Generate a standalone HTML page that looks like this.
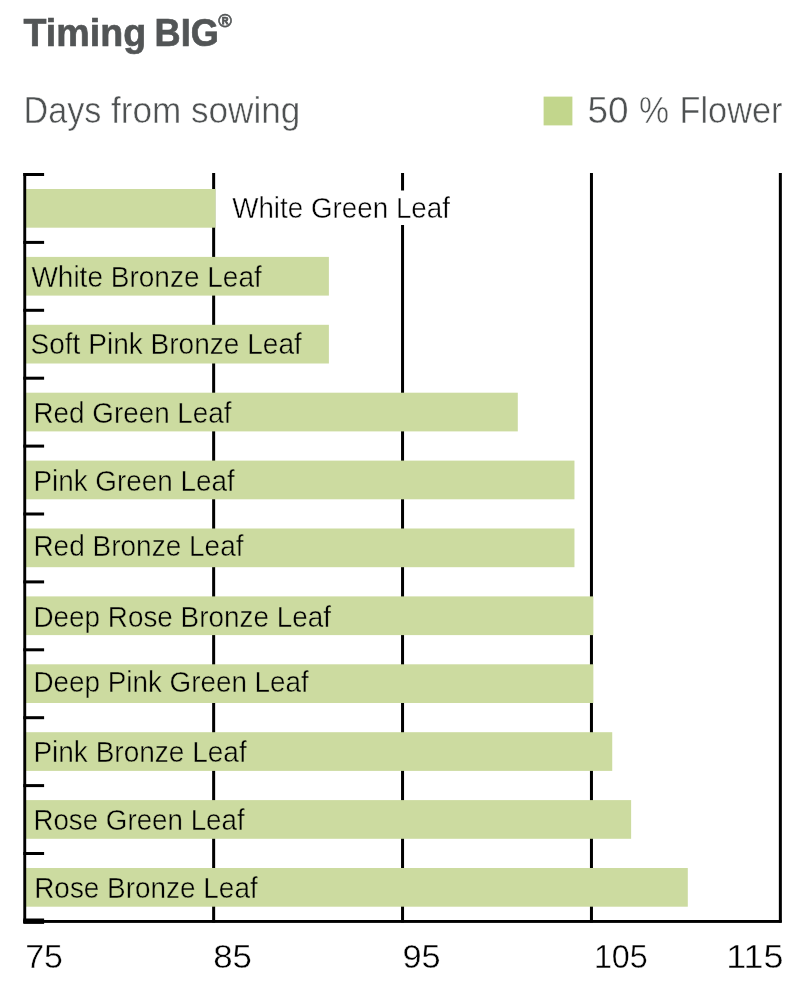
<!DOCTYPE html>
<html lang="en">
<head>
<meta charset="utf-8">
<title>Timing BIG</title>
<style>
html,body{margin:0;padding:0;background:#fff;}
body{width:809px;height:999px;overflow:hidden;}
svg{display:block;}
text{font-family:"Liberation Sans",sans-serif;}
.t{font-weight:bold;fill:#525556;}
.g{fill:#4e5152;}
.l{fill:#000;}
</style>
</head>
<body>
<svg width="809" height="999" viewBox="0 0 809 999">
<rect width="809" height="999" fill="#fff"/>
<text class="t" y="46" font-size="38.8" stroke="#525556" stroke-width="0.7"><tspan x="23.6" textLength="122.5" lengthAdjust="spacingAndGlyphs">Timing</tspan> <tspan x="154.6" textLength="64.3" lengthAdjust="spacingAndGlyphs">BIG</tspan></text>
<text class="t" x="218.2" y="26.6" font-size="17.6" textLength="13.6" lengthAdjust="spacingAndGlyphs" stroke="#525556" stroke-width="0.6">®</text>
<text class="g" y="122.9" font-size="36" stroke="#fff" stroke-width="0.5"><tspan x="23.57" textLength="77.84" lengthAdjust="spacingAndGlyphs">Days</tspan> <tspan x="110.97" textLength="70.31" lengthAdjust="spacingAndGlyphs">from</tspan> <tspan x="190.95" textLength="109.36" lengthAdjust="spacingAndGlyphs">sowing</tspan></text>
<rect x="543.6" y="96.6" width="28.8" height="28.8" fill="#c2d68c"/>
<text class="g" y="123.4" font-size="36" stroke="#fff" stroke-width="0.5"><tspan x="587.42" textLength="41.16" lengthAdjust="spacingAndGlyphs">50</tspan> <tspan x="638.92" textLength="30.04" lengthAdjust="spacingAndGlyphs">%</tspan> <tspan x="679.56" textLength="102.88" lengthAdjust="spacingAndGlyphs">Flower</tspan></text>
<rect x="212.15" y="173" width="3" height="749.5" fill="#000"/>
<rect x="401.05" y="173" width="3" height="749.5" fill="#000"/>
<rect x="589.95" y="173" width="3" height="749.5" fill="#000"/>
<rect x="778.85" y="173" width="3" height="749.5" fill="#000"/>
<rect x="229" y="190.5" width="224" height="34.5" fill="#fff"/>
<rect x="25" y="189.0" width="190.55" height="38.7" fill="#ccdba0"/>
<rect x="25" y="256.9" width="303.89" height="38.7" fill="#ccdba0"/>
<rect x="25" y="324.8" width="303.89" height="38.7" fill="#ccdba0"/>
<rect x="25" y="392.7" width="492.79" height="38.7" fill="#ccdba0"/>
<rect x="25" y="460.6" width="549.46" height="38.7" fill="#ccdba0"/>
<rect x="25" y="528.5" width="549.46" height="38.7" fill="#ccdba0"/>
<rect x="25" y="596.4" width="568.35" height="38.7" fill="#ccdba0"/>
<rect x="25" y="664.3" width="568.35" height="38.7" fill="#ccdba0"/>
<rect x="25" y="732.2" width="587.24" height="38.7" fill="#ccdba0"/>
<rect x="25" y="800.1" width="606.13" height="38.7" fill="#ccdba0"/>
<rect x="25" y="868.0" width="662.80" height="38.7" fill="#ccdba0"/>
<rect x="23.3" y="173" width="2.9" height="750" fill="#000"/>
<rect x="23.3" y="920" width="758.4" height="2.9" fill="#000"/>
<rect x="23.3" y="173.0" width="20.8" height="3" fill="#000"/>
<rect x="23.3" y="240.9" width="20.8" height="3" fill="#000"/>
<rect x="23.3" y="308.8" width="20.8" height="3" fill="#000"/>
<rect x="23.3" y="376.7" width="20.8" height="3" fill="#000"/>
<rect x="23.3" y="444.6" width="20.8" height="3" fill="#000"/>
<rect x="23.3" y="512.5" width="20.8" height="3" fill="#000"/>
<rect x="23.3" y="580.4" width="20.8" height="3" fill="#000"/>
<rect x="23.3" y="648.3" width="20.8" height="3" fill="#000"/>
<rect x="23.3" y="716.2" width="20.8" height="3" fill="#000"/>
<rect x="23.3" y="784.1" width="20.8" height="3" fill="#000"/>
<rect x="23.3" y="852.0" width="20.8" height="3" fill="#000"/>
<rect x="23.3" y="918.5" width="20.8" height="5.4" fill="#000"/>
<text class="l" x="232.2" y="217.8" font-size="30.4" textLength="217.8" lengthAdjust="spacingAndGlyphs" stroke="#fff" stroke-width="0.45">White Green Leaf</text>
<text class="l" x="31.4" y="286.6" font-size="30.4" textLength="230.4" lengthAdjust="spacingAndGlyphs" stroke="#ccdba0" stroke-width="0.45">White Bronze Leaf</text>
<text class="l" x="30.5" y="353.8" font-size="30.4" textLength="271.3" lengthAdjust="spacingAndGlyphs" stroke="#ccdba0" stroke-width="0.45">Soft Pink Bronze Leaf</text>
<text class="l" x="33.4" y="423.2" font-size="30.4" textLength="198.2" lengthAdjust="spacingAndGlyphs" stroke="#ccdba0" stroke-width="0.45">Red Green Leaf</text>
<text class="l" x="33.4" y="490.8" font-size="30.4" textLength="201.4" lengthAdjust="spacingAndGlyphs" stroke="#ccdba0" stroke-width="0.45">Pink Green Leaf</text>
<text class="l" x="33.4" y="555.8" font-size="30.4" textLength="210.1" lengthAdjust="spacingAndGlyphs" stroke="#ccdba0" stroke-width="0.45">Red Bronze Leaf</text>
<text class="l" x="33.4" y="627.0" font-size="30.4" textLength="297.5" lengthAdjust="spacingAndGlyphs" stroke="#ccdba0" stroke-width="0.45">Deep Rose Bronze Leaf</text>
<text class="l" x="33.4" y="692.0" font-size="30.4" textLength="275.4" lengthAdjust="spacingAndGlyphs" stroke="#ccdba0" stroke-width="0.45">Deep Pink Green Leaf</text>
<text class="l" x="33.4" y="762.0" font-size="30.4" textLength="213.3" lengthAdjust="spacingAndGlyphs" stroke="#ccdba0" stroke-width="0.45">Pink Bronze Leaf</text>
<text class="l" x="33.4" y="829.8" font-size="30.4" textLength="211.3" lengthAdjust="spacingAndGlyphs" stroke="#ccdba0" stroke-width="0.45">Rose Green Leaf</text>
<text class="l" x="34.2" y="897.8" font-size="30.4" textLength="223.5" lengthAdjust="spacingAndGlyphs" stroke="#ccdba0" stroke-width="0.45">Rose Bronze Leaf</text>
<text class="l" x="25.2" y="968" font-size="34" textLength="37.7" lengthAdjust="spacingAndGlyphs" stroke="#fff" stroke-width="0.4">75</text>
<text class="l" x="213.2" y="968" font-size="34" textLength="38.7" lengthAdjust="spacingAndGlyphs" stroke="#fff" stroke-width="0.4">85</text>
<text class="l" x="402.5" y="968" font-size="34" textLength="38.2" lengthAdjust="spacingAndGlyphs" stroke="#fff" stroke-width="0.4">95</text>
<text class="l" x="593.9" y="968" font-size="34" textLength="53.9" lengthAdjust="spacingAndGlyphs" stroke="#fff" stroke-width="0.4">105</text>
<text class="l" x="726.2" y="968" font-size="34" textLength="57.3" lengthAdjust="spacingAndGlyphs" stroke="#fff" stroke-width="0.4">115</text>
</svg>
</body>
</html>
